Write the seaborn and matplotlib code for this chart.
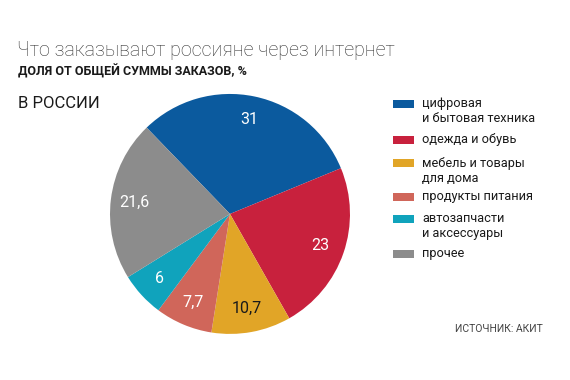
import matplotlib
matplotlib.use("Agg")
import matplotlib.pyplot as plt
import seaborn as sns
from matplotlib.patches import Rectangle

sns.set_theme(style="white")
plt.rcParams['font.family'] = ['Roboto', 'DejaVu Sans']

# data
categories = ['цифровая\nи бытовая техника', 'одежда и обувь', 'мебель и товары\nдля дома',
              'продукты питания', 'автозапчасти\nи аксессуары', 'прочее']
values = [31, 23, 10.7, 7.7, 6, 21.6]
value_labels = ['31', '23', '10,7', '7,7', '6', '21,6']
colors = ['#0b5a9e', '#c8213d', '#e1a527', '#d0665a', '#10a3bc', '#8c8c8c']
label_colors = ['white', 'white', '#1a1a1a', 'white', 'white', 'white']

fig = plt.figure(figsize=(5.7, 3.8), dpi=100)
fig.patch.set_facecolor('white')

# pie
ax = fig.add_axes([0.193, 0.121, 0.421, 0.632])
wedges, texts = ax.pie(values, labels=value_labels, colors=colors, startangle=134,
                       counterclock=False, labeldistance=0.8, radius=1,
                       wedgeprops=dict(linewidth=0, edgecolor='none'),
                       textprops=dict(fontsize=11.5, ha='center', va='center'))
for t, c in zip(texts, label_colors):
    t.set_color(c)
ax.set_xlim(-1, 1)
ax.set_ylim(-1, 1)
ax.set_aspect('equal')

# titles
fig.text(17 / 570, 1 - 51 / 380, 'Что заказывают россияне через интернет', fontsize=14.1,
         fontweight='light', color='#333333', va='center', ha='left')
fig.text(18 / 570, 1 - 71 / 380, 'ДОЛЯ ОТ ОБЩЕЙ СУММЫ ЗАКАЗОВ, %', fontsize=9,
         fontweight='bold', color='#1a1a1a', va='center', ha='left')
fig.text(18 / 570, 1 - 104 / 380, 'В РОССИИ', fontsize=12,
         color='#1a1a1a', va='center', ha='left')

# legend
legend_y = [104, 140, 163, 197, 219, 254]
for lab, col, yy in zip(categories, colors, legend_y):
    fig.patches.append(Rectangle((393 / 570, 1 - (yy + 4) / 380), 21 / 570, 8 / 380,
                                 transform=fig.transFigure, facecolor=col, edgecolor='none'))
    fig.text(422 / 570, 1 - (yy - 6.5) / 380, lab, fontsize=9.2, color='#1a1a1a',
             va='top', ha='left', linespacing=1.2)

fig.text(455 / 570, 1 - 329 / 380, 'ИСТОЧНИК: АКИТ', fontsize=7.5, color='#444444',
         va='center', ha='left')

fig.savefig('out.png', dpi=100, facecolor='white')
